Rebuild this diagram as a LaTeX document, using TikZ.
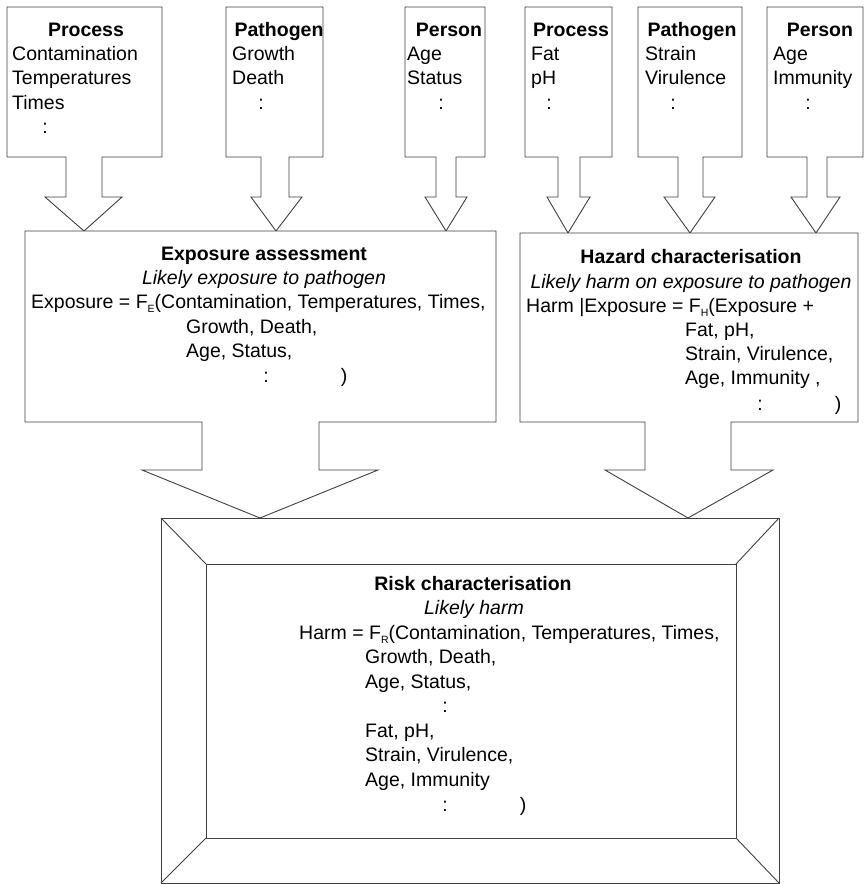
\documentclass[tikz,border=0pt]{standalone}
\usepackage{fontspec}
\setmainfont{Liberation Sans}
\newcommand{\mysub}[1]{\raisebox{-0.22em}{\fontsize{10.5}{10.5}\selectfont #1}}
\begin{document}
\begin{tikzpicture}[x=1pt,y=-1pt,
  shp/.style={draw=black!75, line width=0.9pt, fill=white, line join=miter},
  txt/.style={inner sep=0pt, font=\fontsize{19.5}{24.4}\selectfont},
  lw/.style={txt, anchor=base west},
  ctr/.style={txt, anchor=base},
  ttl/.style={inner sep=0pt, anchor=base, font=\fontsize{19.5}{24.4}\selectfont\bfseries},
  itl/.style={inner sep=0pt, anchor=base, font=\fontsize{19.5}{24.4}\selectfont\itshape}]
\useasboundingbox (0,0) rectangle (864,884);
\fill[white] (0,0) rectangle (864,884);

% ---------- top input boxes with block arrows ----------
% Process (1)
\draw[shp] (7,7) -- (162,7) -- (162,157) -- (102,157) -- (102,197) -- (122,197) -- (84,231)
  -- (45,197) -- (66,197) -- (66,157) -- (7,157) -- cycle;
% Pathogen (1)
\draw[shp] (226,7) -- (323,7) -- (323,157) -- (289,157) -- (289,197) -- (302,197) -- (276,231)
  -- (251,197) -- (261,197) -- (261,157) -- (226,157) -- cycle;
% Person (1)
\draw[shp] (405,7) -- (485,7) -- (485,157) -- (456,157) -- (456,197) -- (467,197) -- (446,231)
  -- (425,197) -- (436,197) -- (436,157) -- (405,157) -- cycle;
% Process (2)
\draw[shp] (525,7) -- (612,7) -- (612,157) -- (580,157) -- (580,197) -- (590,197) -- (568,233)
  -- (547,197) -- (558,197) -- (558,157) -- (525,157) -- cycle;
% Pathogen (2)
\draw[shp] (638,7) -- (742,7) -- (742,157) -- (703,157) -- (703,197) -- (715,197) -- (690,233)
  -- (664,197) -- (678,197) -- (678,157) -- (638,157) -- cycle;
% Person (2)
\draw[shp] (767,7) -- (863,7) -- (863,157) -- (827,157) -- (827,197) -- (840,197) -- (816,233)
  -- (791,197) -- (807,197) -- (807,157) -- (767,157) -- cycle;

% ---------- middle boxes with block arrows ----------
\draw[shp] (25,231) -- (496,231) -- (496,422) -- (319,422) -- (319,470) -- (378,470) -- (260,518)
  -- (142,470) -- (202,470) -- (202,422) -- (25,422) -- cycle;
\draw[shp] (520,233) -- (858,233) -- (858,422) -- (731,422) -- (731,470) -- (773,470) -- (688,518)
  -- (605,470) -- (645,470) -- (645,422) -- (520,422) -- cycle;

% ---------- risk frame ----------
\draw[shp] (161,518) rectangle (779,883);
\draw[shp] (206,564) rectangle (736,838);
\draw[shp] (161,518) -- (206,564);
\draw[shp] (779,518) -- (736,564);
\draw[shp] (161,883) -- (206,838);
\draw[shp] (779,883) -- (736,838);

% ---------- top box texts ----------
\node[ttl] (p1t) at (86,36.5) {Process};
\node[lw] (p1a) at (12,60.5) {Contamination};
\node[lw] (p1b) at (12,84.8) {Temperatures};
\node[lw] (p1c) at (12,109.2) {Times};
\node[ctr] (p1d) at (45,133.6) {:};

\node[ttl] (g1t) at (279,36.5) {Pathogen};
\node[lw] (g1a) at (232,60.5) {Growth};
\node[lw] (g1b) at (232,84.8) {Death};
\node[ctr] (g1c) at (261,109.2) {:};

\node[ttl] (r1t) at (449,36.5) {Person};
\node[lw] (r1a) at (407,60.5) {Age};
\node[lw] (r1b) at (407,84.8) {Status};
\node[ctr] (r1c) at (441,109.2) {:};

\node[ttl] (p2t) at (571,36.5) {Process};
\node[lw] (p2a) at (531,60.5) {Fat};
\node[lw] (p2b) at (531,84.8) {pH};
\node[ctr] (p2c) at (549,109.2) {:};

\node[ttl] (g2t) at (692,36.5) {Pathogen};
\node[lw] (g2a) at (645,60.5) {Strain};
\node[lw] (g2b) at (645,84.8) {Virulence};
\node[ctr] (g2c) at (673,109.2) {:};

\node[ttl] (r2t) at (820,36.5) {Person};
\node[lw] (r2a) at (773,60.5) {Age};
\node[lw] (r2b) at (773,84.8) {Immunity};
\node[ctr] (r2c) at (808,109.2) {:};

% ---------- exposure assessment text ----------
\node[ttl] (et) at (264,260) {Exposure assessment};
\node[itl] (ei) at (264,284) {Likely exposure to pathogen};
\node[lw] (e1) at (31,308.5) {Exposure = F\mysub{E}(Contamination, Temperatures, Times,};
\node[lw] (e2) at (186,333) {Growth, Death,};
\node[lw] (e3) at (186,357.5) {Age, Status,};
\node[ctr] (e4) at (266,382) {:};
\node[ctr] (e5) at (344,382) {)};

% ---------- hazard characterisation text ----------
\node[ttl] (ht) at (691,263.5) {Hazard characterisation};
\node[itl] (hi) at (691,288) {Likely harm on exposure to pathogen};
\node[lw] (h1) at (526,312) {Harm |Exposure = F\mysub{H}(Exposure +};
\node[lw] (h2) at (685,336) {Fat, pH,};
\node[lw] (h3) at (685,360) {Strain, Virulence,};
\node[lw] (h4) at (685,384.5) {Age, Immunity ,};
\node[ctr] (h5) at (760,410.5) {:};
\node[ctr] (h6) at (838,410.5) {)};

% ---------- risk characterisation text ----------
\node[ttl] (rt) at (473,590) {Risk characterisation};
\node[itl] (ri) at (474,614.5) {Likely harm};
\node[lw] (x1) at (299,639) {Harm = F\mysub{R}(Contamination, Temperatures, Times,};
\node[lw] (x2) at (365,663.5) {Growth, Death,};
\node[lw] (x3) at (365,688) {Age, Status,};
\node[ctr] (x4) at (445,712.5) {:};
\node[lw] (x5) at (365,737) {Fat, pH,};
\node[lw] (x6) at (365,761.5) {Strain, Virulence,};
\node[lw] (x7) at (365,786) {Age, Immunity};
\node[ctr] (x8) at (445,811.5) {:};
\node[ctr] (x9) at (523,811.5) {)};
\end{tikzpicture}
\end{document}
